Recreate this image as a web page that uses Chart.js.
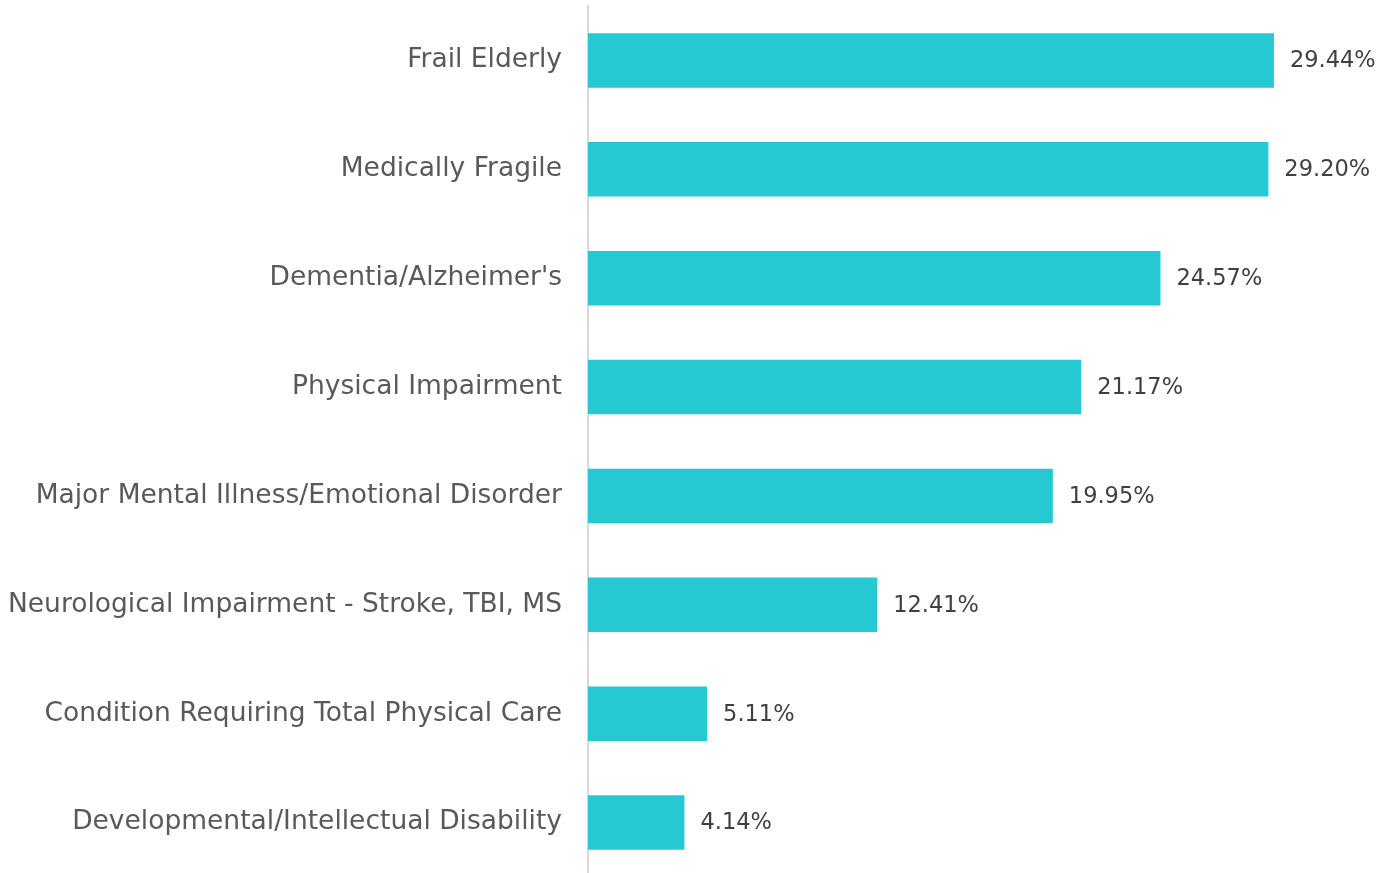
<!DOCTYPE html>
<html lang="en">
<head>
    <meta charset="UTF-8">
    <title>Conditions</title>
    <script src="https://cdn.jsdelivr.net/npm/chart.js"></script>
    <style>
        html, body { margin: 0; padding: 0; background: #fff; overflow: hidden; }
        canvas { display: block; }
    </style>
</head>
<body>
    <canvas id="barChart" width="1393" height="878"></canvas>

    <script>
        const categories = [
            'Frail Elderly',
            'Medically Fragile',
            "Dementia/Alzheimer's",
            'Physical Impairment',
            'Major Mental Illness/Emotional Disorder',
            'Neurological Impairment - Stroke, TBI, MS',
            'Condition Requiring Total Physical Care',
            'Developmental/Intellectual Disability'
        ];
        const percentages = [29.44, 29.20, 24.57, 21.17, 19.95, 12.41, 5.11, 4.14];

        const fontFamily = "'DejaVu Sans', sans-serif";

        // draw the value at the end of each bar
        const valueLabels = {
            id: 'valueLabels',
            afterDatasetsDraw(chart) {
                const ctx = chart.ctx;
                const meta = chart.getDatasetMeta(0);
                ctx.save();
                ctx.font = '22.5px ' + fontFamily;
                ctx.fillStyle = '#404040';
                ctx.textAlign = 'left';
                ctx.textBaseline = 'middle';
                meta.data.forEach((bar, i) => {
                    ctx.fillText(percentages[i].toFixed(2) + '%', bar.x + 16, bar.y + 1);
                });
                ctx.restore();
            }
        };

        const ctx = document.getElementById('barChart').getContext('2d');
        new Chart(ctx, {
            type: 'bar',
            data: {
                labels: categories,
                datasets: [{
                    data: percentages,
                    backgroundColor: '#26C9D2',
                    categoryPercentage: 1,
                    barPercentage: 0.5
                }]
            },
            options: {
                indexAxis: 'y',
                responsive: false,
                animation: false,
                layout: { padding: { top: 6, bottom: 1, left: 0, right: 106 } },
                plugins: {
                    legend: { display: false },
                    tooltip: { enabled: false }
                },
                scales: {
                    x: {
                        display: false,
                        min: 0,
                        max: 30
                    },
                    y: {
                        grid: { display: false, drawTicks: false },
                        border: { display: true, color: '#d9d9d9', width: 2 },
                        afterFit(scale) {
                            scale.width = 588;
                            scale.paddingTop = 0;
                            scale.paddingBottom = 0;
                        },
                        ticks: {
                            padding: 26,
                            color: '#595959',
                            font: { family: fontFamily, size: 26.5 }
                        }
                    }
                }
            },
            plugins: [valueLabels]
        });
    </script>
</body>
</html>
